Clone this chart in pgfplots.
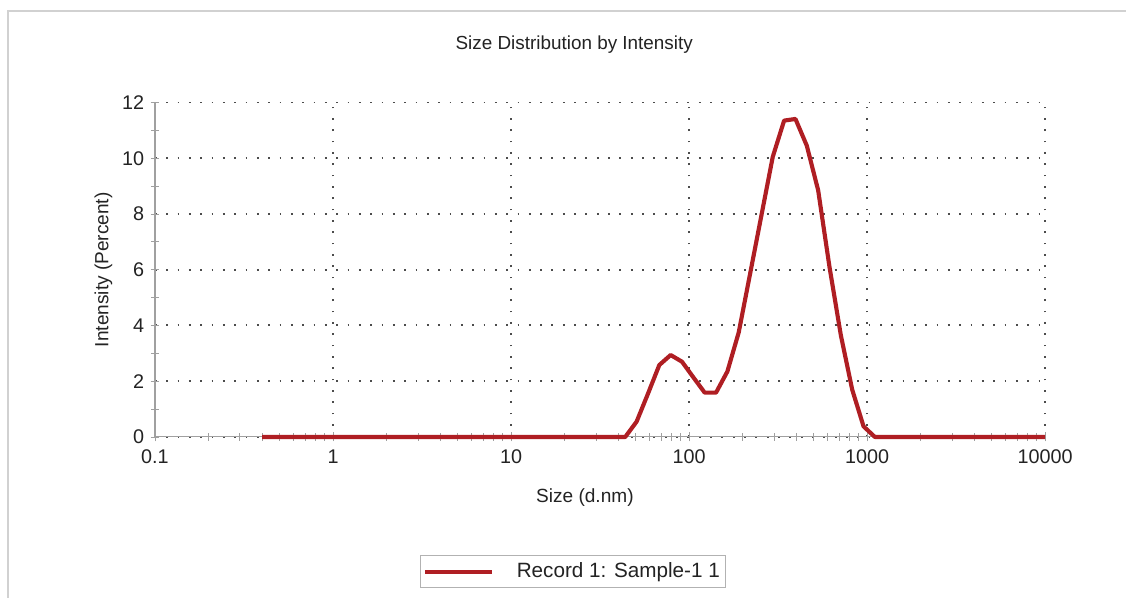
\documentclass[border=0pt]{standalone}
\usepackage{fontspec}
\setmainfont{Liberation Sans}
\usepackage{pgfplots}
\pgfplotsset{compat=1.18}

\definecolor{curve}{RGB}{175,30,35}
\definecolor{axgray}{RGB}{160,160,160}
\definecolor{txt}{RGB}{35,35,35}

\begin{document}
\begin{tikzpicture}
\useasboundingbox (-86.2pt,-89.5pt) rectangle (540pt,243pt);
% light frame of the report panel
\draw[black!18, line width=0.8pt] (-81.8pt,-120pt) -- (-81.8pt,236.9pt) -- (600pt,236.9pt);

\begin{axis}[
  at={(0,0)}, anchor=south west,
  scale only axis,
  width=495pt, height=186pt,
  xmode=log,
  xmin=0.1, xmax=10000,
  ymin=0, ymax=12,
  xtick={0.1,1,10,100,1000,10000},
  xticklabels={0.1,1,10,100,1000,10000},
  minor xtick={0.2,0.3,0.4,0.5,0.6,0.7,0.8,0.9,2,3,4,5,6,7,8,9,20,30,40,50,60,70,80,90,200,300,400,500,600,700,800,900,2000,3000,4000,5000,6000,7000,8000,9000},
  ytick={0,2,4,6,8,10,12},
  minor ytick={1,3,5,7,9,11},
  /pgf/number format/assume math mode=true,
  axis lines=left,
  axis line style={-, axgray, line width=0.6pt},
  tick align=center,
  major tick length=5pt,
  minor tick length=4pt,
  tick style={axgray, line width=0.5pt},
  xmajorgrids, ymajorgrids,
  major grid style={black!70, line width=1.1pt, dash pattern=on 1pt off 5.3pt},
  tick label style={font=\fontsize{11}{13}\selectfont, text=txt},
  xticklabel style={yshift=-1pt},
  title={Size Distribution by Intensity},
  title style={at={(0.471,1.141)}, anchor=center, yshift=0pt, font=\fontsize{10.5}{12}\selectfont, text=txt},
  xlabel={Size (d.nm)},
  xlabel style={at={(axis description cs:0.483,-0.18)}, anchor=center, font=\fontsize{10.6}{12}\selectfont, text=txt},
  ylabel={Intensity (Percent)},
  ylabel style={at={(axis description cs:-0.058,0.5)}, anchor=center, font=\fontsize{10.6}{12}\selectfont, text=txt},
  legend style={at={(0.470,-0.403)}, anchor=center, draw=black!30, line width=0.5pt,
    font=\fontsize{11.5}{13}\selectfont, text=txt, inner xsep=1.3pt, inner ysep=2pt},
  legend image code/.code={\draw[#1] (0pt,0pt) -- (37pt,0pt);},
  clip=false,
]
\addplot[curve, line width=2.3pt, line join=round] table {
x y
0.4 0
43.82 0
50.75 0.55
58.77 1.55
68.06 2.58
78.82 2.94
91.28 2.70
105.7 2.14
122.4 1.59
141.8 1.59
164.2 2.35
190.1 3.75
220.2 5.85
255.0 7.95
295.3 10.05
342.0 11.35
396.1 11.41
458.7 10.45
531.2 8.85
615.1 6.10
712.4 3.65
825.0 1.70
955.4 0.38
1106 0
10000 0
};
\addlegendentry{\hspace{10.7pt}Record 1: Sample-1 1}
\end{axis}
\end{tikzpicture}
\end{document}
